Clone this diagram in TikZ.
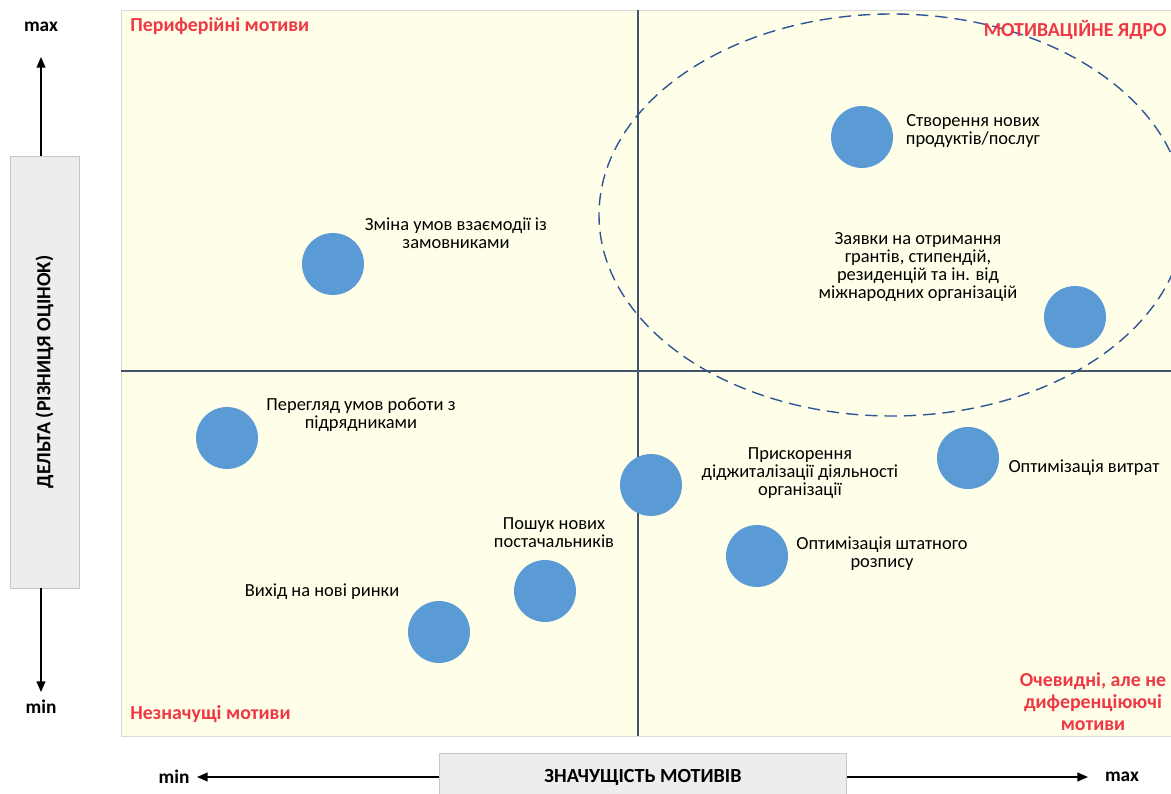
\documentclass[tikz,border=0pt]{standalone}
\usepackage{fontspec}
\setmainfont{Carlito}
\usetikzlibrary{positioning, arrows.meta}

\definecolor{plotbg}{RGB}{255,255,233}
\definecolor{gridblue}{RGB}{68,84,106}
\definecolor{corered}{RGB}{47,85,151}
\definecolor{bubblue}{RGB}{91,155,213}
\definecolor{zonered}{RGB}{238,56,68}

\begin{document}
\begin{tikzpicture}[
    x=0.02cm, y=-0.02cm,
    bubble/.style={circle, fill=bubblue, minimum size=1.24cm, inner sep=0pt},
    lbl/.style={font=\fontsize{10.5}{10.3}\selectfont, align=center, inner sep=0pt},
    zone/.style={font=\fontsize{11.3}{12.5}\selectfont\bfseries, text=zonered, inner sep=0pt},
    axisbox/.style={rectangle, draw=black!22, fill=black!7, inner sep=0pt, font=\fontsize{11.4}{13}\selectfont\bfseries},
    axislbl/.style={font=\fontsize{11}{13}\selectfont\bfseries, inner sep=0pt},
    axisarrow/.style={-{Triangle[length=6pt, width=5pt]}, thick}
]
    \useasboundingbox (0,0) rectangle (1171,794);

    % Plot field and quadrants
    \draw[draw=black!15, fill=plotbg] (121,10) rectangle (1171,736);
    \draw[gridblue, thick] (638,10) -- (638,736);
    \draw[gridblue, thick] (121,371) -- (1171,371);

    % Motivational core
    \begin{scope}
        \clip (0,0) rectangle (1171,794);
        \draw[corered, thick, dash pattern=on 7pt off 4pt] (892,215) ellipse [x radius=293, y radius=201];
    \end{scope}

    % Zone titles
    \node[zone, anchor=west] (periph) at (130,26) {Периферійні мотиви};
    \node[zone, anchor=east] (core) at (1167,30) {МОТИВАЦІЙНЕ ЯДРО};
    \node[zone, anchor=west] (minor) at (130,714) {Незначущі мотиви};
    \node[zone, align=center] (obvious) at (1093,702) {Очевидні, але не\\диференціюючі\\мотиви};

    % Motives
    \node[bubble] (products) at (862,137) {};
    \node[lbl] (productst) at (973,131) {Створення нових\\продуктів/послуг};
    \node[bubble] (grants) at (1075,317) {};
    \node[lbl] (grantst) at (918,267) {Заявки на отримання\\грантів, стипендій,\\резиденцій та ін. від\\міжнародних організацій};
    \node[bubble] (clients) at (333,264) {};
    \node[lbl] (clientst) at (456,233) {Зміна умов взаємодії із\\замовниками};
    \node[bubble] (contractors) at (227,438) {};
    \node[lbl] (contractorst) at (361,415) {Перегляд умов роботи з\\підрядниками};
    \node[bubble] (digital) at (651,485) {};
    \node[lbl] (digitalt) at (800,473) {Прискорення\\діджиталізації діяльності\\організації};
    \node[bubble] (costs) at (968,458) {};
    \node[lbl] (costst) at (1084,468) {Оптимізація витрат};
    \node[bubble] (staff) at (757,556) {};
    \node[lbl] (stafft) at (882,554) {Оптимізація штатного\\розпису};
    \node[bubble] (suppliers) at (545,591) {};
    \node[lbl] (supplierst) at (554,533) {Пошук нових\\постачальників};
    \node[bubble] (markets) at (439,632) {};
    \node[lbl] (marketst) at (322,592) {Вихід на нові ринки};

    % Vertical axis
    \node[axisbox, rotate=90, minimum width=8.64cm, minimum height=1.38cm] (delta) at (44.5,372) {ДЕЛЬТА (РІЗНИЦЯ ОЦІНОК)};
    \node[axislbl] (ymax) at (41,27) {max};
    \node[axislbl] (ymin) at (41,707) {min};
    \coordinate (ytop) at (41,57);
    \coordinate (ybot) at (41,692);
    \draw[axisarrow] (ytop |- delta.east) -- (ytop);
    \draw[axisarrow] (ybot |- delta.west) -- (ybot);

    % Horizontal axis
    \node[axisbox, minimum width=8.14cm, minimum height=0.88cm] (signif) at (643,775) {};
    \node[axislbl, font=\fontsize{11.4}{13}\selectfont\bfseries] (signift) at (643,777) {ЗНАЧУЩІСТЬ МОТИВІВ};
    \node[axislbl] (xmin) at (174,777) {min};
    \node[axislbl] (xmax) at (1122,777) {max};
    \coordinate (xleft) at (197,777);
    \coordinate (xright) at (1088,777);
    \draw[axisarrow] (signif.west |- xleft) -- (xleft);
    \draw[axisarrow] (signif.east |- xright) -- (xright);
\end{tikzpicture}
\end{document}
